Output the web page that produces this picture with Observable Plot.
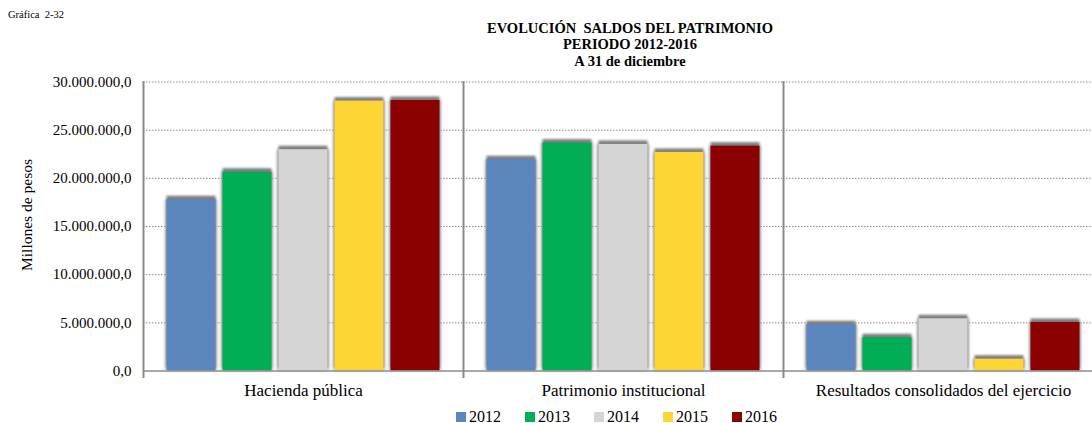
<!DOCTYPE html>
<html>
<head>
<meta charset="utf-8">
<script src="https://cdn.jsdelivr.net/npm/d3@7"></script>
<script src="https://cdn.jsdelivr.net/npm/@observablehq/plot@0.6"></script>
<style>
  html, body { margin: 0; padding: 0; background: #fff; overflow: hidden; width: 1092px; height: 423px; }
  body { position: relative; font-family: "Liberation Serif", "Times New Roman", serif; color: #000; }
  #fig { position: absolute; left: 8px; top: 9px; font-size: 10.5px; white-space: pre; }
  #title { position: absolute; left: 380px; width: 500px; top: 19.5px; text-align: center; font-weight: bold; font-size: 14.5px; line-height: 16.5px; white-space: pre; }
  #chart { position: absolute; left: 0; top: 70px; width: 1103px; }
  #ylabel { position: absolute; left: 27px; top: 215px; transform: translate(-50%, -50%) rotate(-90deg); font-size: 15.5px; white-space: nowrap; }
  #legend { position: absolute; left: 456px; top: 407px; display: flex; font-size: 16px; line-height: 20px; }
  .item { display: flex; align-items: center; margin-right: 24px; }
  .sw { width: 10px; height: 10px; margin-right: 3px; }
</style>
</head>
<body>
<div id="fig">Gráfica  2-32</div>
<div id="title">EVOLUCIÓN  SALDOS DEL PATRIMONIO
PERIODO 2012-2016
A 31 de diciembre</div>
<div id="chart"></div>
<div id="ylabel">Millones  de pesos</div>
<div id="legend"></div>
<script>
const categories = ["Hacienda pública", "Patrimonio institucional", "Resultados consolidados del ejercicio"];
const years = ["2012", "2013", "2014", "2015", "2016"];
const values2012 = [17780000, 21930000, 4800000];
const values2013 = [20640000, 23660000, 3450000];
const values2014 = [22970000, 23520000, 5420000];
const values2015 = [28020000, 22690000, 1230000];
const values2016 = [28080000, 23340000, 5040000];
const yearColors = ["#5b87be", "#00ae55", "#d5d5d5", "#fdd535", "#8b0000"];
const yTicks = [0, 5000000, 10000000, 15000000, 20000000, 25000000, 30000000];

const series = [values2012, values2013, values2014, values2015, values2016];
const data = [];
categories.forEach((c, i) => years.forEach((y, j) => data.push({cat: c, year: y, value: series[j][i]})));

const locale = d3.formatLocale({decimal: ",", thousands: ".", grouping: [3], currency: ["$", ""]});
const fmt = locale.format(",.1f");

const chart = Plot.plot({
  width: 1103,
  height: 331,
  marginTop: 11.5,
  marginLeft: 143,
  marginRight: 0,
  marginBottom: 30.5,
  style: {fontFamily: "'Liberation Serif', 'Times New Roman', serif", color: "#000", background: "transparent", overflow: "visible", maxWidth: "none"},
  fx: {domain: categories, padding: 0, label: null},
  x: {domain: years, paddingInner: 0.125, paddingOuter: 0.42, axis: null, round: false},
  y: {domain: [0, 30000000], label: null},
  color: {domain: years, range: yearColors},
  marks: [
    Plot.gridY(yTicks.slice(1), {stroke: "#8a8a8a", strokeOpacity: 1, strokeDasharray: "1.5,1.5", strokeWidth: 1}),
    Plot.barY(data, {fx: "cat", x: "year", y: "value", fill: "#b0b0b0", insetLeft: -1.5, insetRight: -1.5, imageFilter: "blur(1.5px)"}),
    Plot.barY(data, {fx: "cat", x: "year", y: "value", fill: "#7f7f7f", dy: -3.5, imageFilter: "blur(0.8px)"}),
    Plot.barY(data, {fx: "cat", x: "year", y: "value", fill: "year"}),
    Plot.ruleY([0], {stroke: "#8c8c8c", strokeWidth: 1.5}),
    Plot.frame({anchor: "left", stroke: "#8a8a8a", strokeWidth: 2, insetBottom: -6}),
    Plot.axisY({ticks: yTicks, tickFormat: fmt, tickSize: 0, tickPadding: 12, fontSize: 15, label: null}),
    Plot.axisFx({anchor: "bottom", tickSize: 0, tickPadding: 13, fontSize: 17, label: null})
  ]
});
document.getElementById("chart").appendChild(chart);

const legend = document.getElementById("legend");
years.forEach((y, i) => {
  const item = document.createElement("div");
  item.className = "item";
  const sw = document.createElement("div");
  sw.className = "sw";
  sw.style.background = yearColors[i];
  const t = document.createElement("span");
  t.textContent = y;
  item.appendChild(sw);
  item.appendChild(t);
  legend.appendChild(item);
});
</script>
</body>
</html>
